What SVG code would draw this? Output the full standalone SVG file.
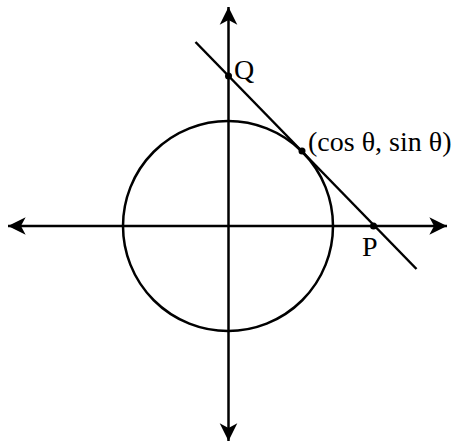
<svg xmlns="http://www.w3.org/2000/svg" width="455" height="443" viewBox="0 0 455 443">
<style>
.ln{stroke:#000;stroke-width:2.5;fill:none}
.dot{fill:#000}
.lbl{font-family:"Liberation Serif","Times New Roman",serif;font-size:28px;fill:#000}
</style>
<defs>
<marker id="ah" markerUnits="userSpaceOnUse" markerWidth="20" markerHeight="20" viewBox="-16 -8 17 16" refX="0" refY="0" orient="auto">
<path d="M0,0 L-15,-7.5 L-11,0 L-15,7.5 Z" fill="#000"/>
</marker>
</defs>
<rect width="455" height="443" fill="#fff"/>
<g id="connectors">
<line class="ln" x1="226" y1="226" x2="8" y2="226" marker-end="url(#ah)"/>
<line class="ln" x1="226" y1="226" x2="447" y2="226" marker-end="url(#ah)"/>
<line class="ln" x1="228.5" y1="226" x2="228.5" y2="7" marker-end="url(#ah)"/>
<line class="ln" x1="228.5" y1="226" x2="228.5" y2="441" marker-end="url(#ah)"/>
<line class="ln" x1="195.5" y1="42" x2="416.5" y2="269"/>
</g>
<g id="circle">
<circle class="ln" cx="228" cy="226" r="105"/>
</g>
<g id="Q">
<circle class="dot" cx="228.5" cy="76" r="3.5"/>
<text class="lbl" x="234" y="79">Q</text>
</g>
<g id="T">
<circle class="dot" cx="302" cy="151" r="3.5"/>
<text class="lbl" x="308" y="151">(cos θ, sin θ)</text>
</g>
<g id="P">
<circle class="dot" cx="373.5" cy="226" r="3.5"/>
<text class="lbl" x="362" y="256">P</text>
</g>
</svg>
